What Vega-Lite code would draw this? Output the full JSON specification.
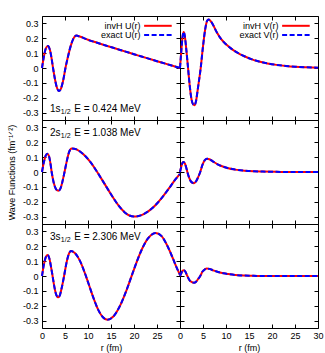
{
"$schema": "https://vega.github.io/schema/vega-lite/v6.json",
"background": "white",
"padding": {"left": 6, "top": 15, "right": 5, "bottom": 2},
"spacing": 0,
"bounds": "flush",
"columns": 2,
"datasets": {
"wf": [
{"s":"1s","c":"U","r":0,"v":0},{"s":"1s","c":"U","r":0.4,"v":0.075},{"s":"1s","c":"U","r":0.8,"v":0.128},{"s":"1s","c":"U","r":1.3,"v":0.148},{"s":"1s","c":"U","r":1.7,"v":0.124},{"s":"1s","c":"U","r":2.05,"v":0.071},{"s":"1s","c":"U","r":2.4,"v":0},{"s":"1s","c":"U","r":2.8,"v":-0.072},{"s":"1s","c":"U","r":3.2,"v":-0.128},{"s":"1s","c":"U","r":3.7,"v":-0.155},{"s":"1s","c":"U","r":4.1,"v":-0.14},{"s":"1s","c":"U","r":4.6,"v":-0.084},{"s":"1s","c":"U","r":5.1,"v":0},{"s":"1s","c":"U","r":5.6,"v":0.07},{"s":"1s","c":"U","r":6.2,"v":0.144},{"s":"1s","c":"U","r":6.8,"v":0.196},{"s":"1s","c":"U","r":7.5,"v":0.218},{"s":"1s","c":"U","r":8.2,"v":0.212},{"s":"1s","c":"U","r":9,"v":0.203},{"s":"1s","c":"U","r":10,"v":0.19},{"s":"1s","c":"U","r":12,"v":0.17},{"s":"1s","c":"U","r":14,"v":0.15},{"s":"1s","c":"U","r":16,"v":0.131},{"s":"1s","c":"U","r":18,"v":0.112},{"s":"1s","c":"U","r":20,"v":0.093},{"s":"1s","c":"U","r":22,"v":0.074},{"s":"1s","c":"U","r":24,"v":0.055},{"s":"1s","c":"U","r":26,"v":0.037},{"s":"1s","c":"U","r":28,"v":0.018},{"s":"1s","c":"U","r":30,"v":0},
{"s":"1s","c":"V","r":0,"v":0},{"s":"1s","c":"V","r":0.3,"v":0.12},{"s":"1s","c":"V","r":0.55,"v":0.21},{"s":"1s","c":"V","r":0.8,"v":0.243},{"s":"1s","c":"V","r":1.05,"v":0.215},{"s":"1s","c":"V","r":1.4,"v":0.115},{"s":"1s","c":"V","r":1.75,"v":0},{"s":"1s","c":"V","r":2.1,"v":-0.115},{"s":"1s","c":"V","r":2.5,"v":-0.21},{"s":"1s","c":"V","r":2.85,"v":-0.245},{"s":"1s","c":"V","r":3.15,"v":-0.25},{"s":"1s","c":"V","r":3.5,"v":-0.22},{"s":"1s","c":"V","r":3.9,"v":-0.135},{"s":"1s","c":"V","r":4.5,"v":0},{"s":"1s","c":"V","r":5,"v":0.145},{"s":"1s","c":"V","r":5.5,"v":0.265},{"s":"1s","c":"V","r":5.9,"v":0.318},{"s":"1s","c":"V","r":6.2,"v":0.326},{"s":"1s","c":"V","r":6.6,"v":0.318},{"s":"1s","c":"V","r":7.2,"v":0.29},{"s":"1s","c":"V","r":8,"v":0.24},{"s":"1s","c":"V","r":9,"v":0.192},{"s":"1s","c":"V","r":10,"v":0.16},{"s":"1s","c":"V","r":11,"v":0.134},{"s":"1s","c":"V","r":12,"v":0.112},{"s":"1s","c":"V","r":13,"v":0.094},{"s":"1s","c":"V","r":14,"v":0.079},{"s":"1s","c":"V","r":15.5,"v":0.06},{"s":"1s","c":"V","r":17,"v":0.045},{"s":"1s","c":"V","r":19,"v":0.031},{"s":"1s","c":"V","r":21,"v":0.021},{"s":"1s","c":"V","r":23,"v":0.014},{"s":"1s","c":"V","r":25,"v":0.009},{"s":"1s","c":"V","r":27.5,"v":0.005},{"s":"1s","c":"V","r":30,"v":0.002},
{"s":"2s","c":"U","r":0,"v":0},{"s":"2s","c":"U","r":0.4,"v":0.065},{"s":"2s","c":"U","r":0.8,"v":0.11},{"s":"2s","c":"U","r":1.15,"v":0.123},{"s":"2s","c":"U","r":1.5,"v":0.108},{"s":"2s","c":"U","r":1.8,"v":0.065},{"s":"2s","c":"U","r":2.1,"v":0},{"s":"2s","c":"U","r":2.5,"v":-0.065},{"s":"2s","c":"U","r":3,"v":-0.112},{"s":"2s","c":"U","r":3.55,"v":-0.127},{"s":"2s","c":"U","r":4,"v":-0.112},{"s":"2s","c":"U","r":4.4,"v":-0.07},{"s":"2s","c":"U","r":4.9,"v":0},{"s":"2s","c":"U","r":5.4,"v":0.075},{"s":"2s","c":"U","r":5.9,"v":0.135},{"s":"2s","c":"U","r":6.45,"v":0.159},{"s":"2s","c":"U","r":7.5,"v":0.152},{"s":"2s","c":"U","r":9,"v":0.12},{"s":"2s","c":"U","r":10.5,"v":0.068},{"s":"2s","c":"U","r":12,"v":0},{"s":"2s","c":"U","r":13.5,"v":-0.075},{"s":"2s","c":"U","r":15,"v":-0.15},{"s":"2s","c":"U","r":16.5,"v":-0.22},{"s":"2s","c":"U","r":18,"v":-0.272},{"s":"2s","c":"U","r":19,"v":-0.293},{"s":"2s","c":"U","r":20,"v":-0.3},{"s":"2s","c":"U","r":21,"v":-0.296},{"s":"2s","c":"U","r":22,"v":-0.285},{"s":"2s","c":"U","r":23,"v":-0.267},{"s":"2s","c":"U","r":24,"v":-0.243},{"s":"2s","c":"U","r":25,"v":-0.212},{"s":"2s","c":"U","r":26,"v":-0.176},{"s":"2s","c":"U","r":27,"v":-0.136},{"s":"2s","c":"U","r":28,"v":-0.093},{"s":"2s","c":"U","r":29,"v":-0.05},{"s":"2s","c":"U","r":30,"v":-0.012},
{"s":"2s","c":"V","r":0,"v":0},{"s":"2s","c":"V","r":0.3,"v":0.038},{"s":"2s","c":"V","r":0.55,"v":0.062},{"s":"2s","c":"V","r":0.8,"v":0.068},{"s":"2s","c":"V","r":1.1,"v":0.055},{"s":"2s","c":"V","r":1.35,"v":0.03},{"s":"2s","c":"V","r":1.6,"v":0},{"s":"2s","c":"V","r":2,"v":-0.04},{"s":"2s","c":"V","r":2.5,"v":-0.068},{"s":"2s","c":"V","r":3.05,"v":-0.075},{"s":"2s","c":"V","r":3.5,"v":-0.062},{"s":"2s","c":"V","r":3.9,"v":-0.038},{"s":"2s","c":"V","r":4.4,"v":0},{"s":"2s","c":"V","r":4.9,"v":0.05},{"s":"2s","c":"V","r":5.4,"v":0.08},{"s":"2s","c":"V","r":5.85,"v":0.089},{"s":"2s","c":"V","r":6.4,"v":0.086},{"s":"2s","c":"V","r":7.2,"v":0.07},{"s":"2s","c":"V","r":8.3,"v":0.05},{"s":"2s","c":"V","r":9.3,"v":0.037},{"s":"2s","c":"V","r":10.5,"v":0.025},{"s":"2s","c":"V","r":12,"v":0.016},{"s":"2s","c":"V","r":14,"v":0.009},{"s":"2s","c":"V","r":16,"v":0.005},{"s":"2s","c":"V","r":18,"v":0.003},{"s":"2s","c":"V","r":21,"v":0.001},{"s":"2s","c":"V","r":25,"v":0},{"s":"2s","c":"V","r":30,"v":0},
{"s":"3s","c":"U","r":0,"v":0},{"s":"3s","c":"U","r":0.4,"v":0.075},{"s":"3s","c":"U","r":0.8,"v":0.125},{"s":"3s","c":"U","r":1.2,"v":0.141},{"s":"3s","c":"U","r":1.6,"v":0.118},{"s":"3s","c":"U","r":2,"v":0.055},{"s":"3s","c":"U","r":2.3,"v":0},{"s":"3s","c":"U","r":2.7,"v":-0.075},{"s":"3s","c":"U","r":3.1,"v":-0.127},{"s":"3s","c":"U","r":3.5,"v":-0.143},{"s":"3s","c":"U","r":3.9,"v":-0.128},{"s":"3s","c":"U","r":4.3,"v":-0.078},{"s":"3s","c":"U","r":4.8,"v":0},{"s":"3s","c":"U","r":5.3,"v":0.085},{"s":"3s","c":"U","r":5.8,"v":0.145},{"s":"3s","c":"U","r":6.3,"v":0.168},{"s":"3s","c":"U","r":7.2,"v":0.153},{"s":"3s","c":"U","r":8.2,"v":0.105},{"s":"3s","c":"U","r":9.2,"v":0.03},{"s":"3s","c":"U","r":10.2,"v":-0.059},{"s":"3s","c":"U","r":11.2,"v":-0.149},{"s":"3s","c":"U","r":12.2,"v":-0.226},{"s":"3s","c":"U","r":13.2,"v":-0.276},{"s":"3s","c":"U","r":14.2,"v":-0.295},{"s":"3s","c":"U","r":15.5,"v":-0.273},{"s":"3s","c":"U","r":17,"v":-0.198},{"s":"3s","c":"U","r":18.5,"v":-0.085},{"s":"3s","c":"U","r":20,"v":0.045},{"s":"3s","c":"U","r":21.5,"v":0.165},{"s":"3s","c":"U","r":23,"v":0.251},{"s":"3s","c":"U","r":24.7,"v":0.289},{"s":"3s","c":"U","r":26,"v":0.268},{"s":"3s","c":"U","r":27.3,"v":0.2},{"s":"3s","c":"U","r":28.5,"v":0.115},{"s":"3s","c":"U","r":29.3,"v":0.055},{"s":"3s","c":"U","r":30,"v":0.008},
{"s":"3s","c":"V","r":0,"v":0},{"s":"3s","c":"V","r":0.3,"v":0.02},{"s":"3s","c":"V","r":0.55,"v":0.035},{"s":"3s","c":"V","r":0.85,"v":0.039},{"s":"3s","c":"V","r":1.15,"v":0.03},{"s":"3s","c":"V","r":1.6,"v":0},{"s":"3s","c":"V","r":2,"v":-0.025},{"s":"3s","c":"V","r":2.5,"v":-0.04},{"s":"3s","c":"V","r":3.05,"v":-0.045},{"s":"3s","c":"V","r":3.5,"v":-0.038},{"s":"3s","c":"V","r":3.9,"v":-0.022},{"s":"3s","c":"V","r":4.4,"v":0},{"s":"3s","c":"V","r":4.9,"v":0.03},{"s":"3s","c":"V","r":5.4,"v":0.045},{"s":"3s","c":"V","r":5.85,"v":0.05},{"s":"3s","c":"V","r":6.4,"v":0.048},{"s":"3s","c":"V","r":7.2,"v":0.038},{"s":"3s","c":"V","r":8.3,"v":0.027},{"s":"3s","c":"V","r":9.5,"v":0.018},{"s":"3s","c":"V","r":10.5,"v":0.013},{"s":"3s","c":"V","r":12,"v":0.007},{"s":"3s","c":"V","r":14,"v":0.003},{"s":"3s","c":"V","r":16,"v":0.001},{"s":"3s","c":"V","r":20,"v":0},{"s":"3s","c":"V","r":25,"v":0},{"s":"3s","c":"V","r":30,"v":0}
],
"ann": [
{"s":"1s","main":"1s","sub":"1/2","rest":"E = 0.424 MeV"},
{"s":"2s","main":"2s","sub":"1/2","rest":"E = 1.038 MeV"},
{"s":"3s","main":"3s","sub":"1/2","rest":"E = 2.306 MeV"}
],
"leg": [
{"c":"U","series":"invH","label":"invH U(r)"},
{"c":"U","series":"exact","label":"exact U(r)"},
{"c":"V","series":"invH","label":"invH V(r)"},
{"c":"V","series":"exact","label":"exact V(r)"}
]
},
"concat": [
{"width": 138, "height": 104, "resolve": {"axis": {"x": "independent", "y": "independent"}}, "layer": [
{"data": {"name": "wf"}, "transform": [{"filter": "datum.s==='1s'&&datum.c==='U'"}], "mark": {"type": "line", "color": "#ff0000", "strokeWidth": 2, "interpolate": "monotone"},
 "encoding": {"x": {"field": "r", "type": "quantitative", "scale": {"domain": [0, 30], "nice": false}, "axis": {"orient": "bottom", "values": [0,5,10,15,20,25,30], "labels": false, "title": null, "labelFlush": false}},
              "y": {"field": "v", "type": "quantitative", "scale": {"domain": [-0.35, 0.35], "nice": false}, "axis": {"orient": "left", "values": [-0.3,-0.2,-0.1,0,0.1,0.2,0.3], "title": null, "labelExpr": "replace(format(datum.value,'.1~f'),'\u2212','-')"}}}},
{"data": {"name": "wf"}, "transform": [{"filter": "datum.s==='1s'&&datum.c==='U'"}], "mark": {"type": "line", "color": "#0000ff", "strokeWidth": 2, "strokeDash": [5, 2.5], "interpolate": "monotone"},
 "encoding": {"x": {"field": "r", "type": "quantitative", "axis": {"orient": "top", "values": [0,5,10,15,20,25,30], "labels": false, "title": null}},
              "y": {"field": "v", "type": "quantitative", "axis": {"orient": "right", "values": [-0.3,-0.2,-0.1,0,0.1,0.2,0.3], "labels": false, "title": null}}}},
{"data": {"name": "leg"}, "transform": [{"filter": "datum.c==='U'&&datum.series==='invH'"}], "mark": {"type": "text", "align": "right", "baseline": "middle", "fontSize": 9, "font": "Liberation Sans", "color": "black"},
 "encoding": {"x": {"datum": 21.4, "type": "quantitative", "axis": null}, "y": {"datum": 0.284, "type": "quantitative", "axis": null}, "text": {"field": "label"}}},
{"data": {"name": "leg"}, "transform": [{"filter": "datum.c==='U'&&datum.series==='exact'"}], "mark": {"type": "text", "align": "right", "baseline": "middle", "fontSize": 9, "font": "Liberation Sans", "color": "black"},
 "encoding": {"x": {"datum": 21.4, "type": "quantitative", "axis": null}, "y": {"datum": 0.222, "type": "quantitative", "axis": null}, "text": {"field": "label"}}},
{"data": {"name": "leg"}, "transform": [{"filter": "datum.c==='U'&&datum.series==='invH'"}], "mark": {"type": "rule", "color": "#ff0000", "strokeWidth": 2},
 "encoding": {"x": {"datum": 22.2, "type": "quantitative", "axis": null}, "x2": {"datum": 28.2}, "y": {"datum": 0.284, "type": "quantitative", "axis": null}}},
{"data": {"name": "leg"}, "transform": [{"filter": "datum.c==='U'&&datum.series==='exact'"}], "mark": {"type": "rule", "color": "#0000ff", "strokeWidth": 2, "strokeDash": [5, 2.5]},
 "encoding": {"x": {"datum": 22.2, "type": "quantitative", "axis": null}, "x2": {"datum": 28.2}, "y": {"datum": 0.222, "type": "quantitative", "axis": null}}},
{"data": {"name": "ann"}, "transform": [{"filter": "datum.s==='1s'"}], "mark": {"type": "text", "align": "left", "baseline": "middle", "fontSize": 10, "font": "Liberation Sans", "color": "black"},
 "encoding": {"x": {"datum": 1.75, "type": "quantitative", "axis": null}, "y": {"datum": -0.279, "type": "quantitative", "axis": null}, "text": {"field": "main"}}},
{"data": {"name": "ann"}, "transform": [{"filter": "datum.s==='1s'"}], "mark": {"type": "text", "align": "left", "baseline": "middle", "fontSize": 7, "font": "Liberation Sans", "color": "black"},
 "encoding": {"x": {"datum": 4.1, "type": "quantitative", "axis": null}, "y": {"datum": -0.299, "type": "quantitative", "axis": null}, "text": {"field": "sub"}}},
{"data": {"name": "ann"}, "transform": [{"filter": "datum.s==='1s'"}], "mark": {"type": "text", "align": "left", "baseline": "middle", "fontSize": 10, "font": "Liberation Sans", "color": "black"},
 "encoding": {"x": {"datum": 7.0, "type": "quantitative", "axis": null}, "y": {"datum": -0.279, "type": "quantitative", "axis": null}, "text": {"field": "rest"}}}
]},
{"width": 138, "height": 104, "resolve": {"axis": {"x": "independent", "y": "independent"}}, "layer": [
{"data": {"name": "wf"}, "transform": [{"filter": "datum.s==='1s'&&datum.c==='V'"}], "mark": {"type": "line", "color": "#ff0000", "strokeWidth": 2, "interpolate": "monotone"},
 "encoding": {"x": {"field": "r", "type": "quantitative", "scale": {"domain": [0, 30], "nice": false}, "axis": {"orient": "bottom", "values": [0,5,10,15,20,25,30], "labels": false, "title": null, "labelFlush": false}},
              "y": {"field": "v", "type": "quantitative", "scale": {"domain": [-0.35, 0.35], "nice": false}, "axis": {"orient": "left", "values": [-0.3,-0.2,-0.1,0,0.1,0.2,0.3], "labels": false, "title": null}}}},
{"data": {"name": "wf"}, "transform": [{"filter": "datum.s==='1s'&&datum.c==='V'"}], "mark": {"type": "line", "color": "#0000ff", "strokeWidth": 2, "strokeDash": [5, 2.5], "interpolate": "monotone"},
 "encoding": {"x": {"field": "r", "type": "quantitative", "axis": {"orient": "top", "values": [0,5,10,15,20,25,30], "labels": false, "title": null}},
              "y": {"field": "v", "type": "quantitative", "axis": {"orient": "right", "values": [-0.3,-0.2,-0.1,0,0.1,0.2,0.3], "labels": false, "title": null}}}},
{"data": {"name": "leg"}, "transform": [{"filter": "datum.c==='V'&&datum.series==='invH'"}], "mark": {"type": "text", "align": "right", "baseline": "middle", "fontSize": 9, "font": "Liberation Sans", "color": "black"},
 "encoding": {"x": {"datum": 21.4, "type": "quantitative", "axis": null}, "y": {"datum": 0.284, "type": "quantitative", "axis": null}, "text": {"field": "label"}}},
{"data": {"name": "leg"}, "transform": [{"filter": "datum.c==='V'&&datum.series==='exact'"}], "mark": {"type": "text", "align": "right", "baseline": "middle", "fontSize": 9, "font": "Liberation Sans", "color": "black"},
 "encoding": {"x": {"datum": 21.4, "type": "quantitative", "axis": null}, "y": {"datum": 0.222, "type": "quantitative", "axis": null}, "text": {"field": "label"}}},
{"data": {"name": "leg"}, "transform": [{"filter": "datum.c==='V'&&datum.series==='invH'"}], "mark": {"type": "rule", "color": "#ff0000", "strokeWidth": 2},
 "encoding": {"x": {"datum": 22.2, "type": "quantitative", "axis": null}, "x2": {"datum": 28.2}, "y": {"datum": 0.284, "type": "quantitative", "axis": null}}},
{"data": {"name": "leg"}, "transform": [{"filter": "datum.c==='V'&&datum.series==='exact'"}], "mark": {"type": "rule", "color": "#0000ff", "strokeWidth": 2, "strokeDash": [5, 2.5]},
 "encoding": {"x": {"datum": 22.2, "type": "quantitative", "axis": null}, "x2": {"datum": 28.2}, "y": {"datum": 0.222, "type": "quantitative", "axis": null}}}
]},
{"width": 138, "height": 104, "resolve": {"axis": {"x": "independent", "y": "independent"}}, "layer": [
{"data": {"name": "wf"}, "transform": [{"filter": "datum.s==='2s'&&datum.c==='U'"}], "mark": {"type": "line", "color": "#ff0000", "strokeWidth": 2, "interpolate": "monotone"},
 "encoding": {"x": {"field": "r", "type": "quantitative", "scale": {"domain": [0, 30], "nice": false}, "axis": {"orient": "bottom", "values": [0,5,10,15,20,25,30], "labels": false, "title": null, "labelFlush": false}},
              "y": {"field": "v", "type": "quantitative", "scale": {"domain": [-0.35, 0.35], "nice": false}, "axis": {"orient": "left", "values": [-0.3,-0.2,-0.1,0,0.1,0.2,0.3], "title": "Wave Functions (fm\u207b\u00b9\u141f\u00b2)", "titlePadding": 6, "labelExpr": "replace(format(datum.value,'.1~f'),'\u2212','-')"}}}},
{"data": {"name": "wf"}, "transform": [{"filter": "datum.s==='2s'&&datum.c==='U'"}], "mark": {"type": "line", "color": "#0000ff", "strokeWidth": 2, "strokeDash": [5, 2.5], "interpolate": "monotone"},
 "encoding": {"x": {"field": "r", "type": "quantitative", "axis": {"orient": "top", "values": [0,5,10,15,20,25,30], "labels": false, "title": null}},
              "y": {"field": "v", "type": "quantitative", "axis": {"orient": "right", "values": [-0.3,-0.2,-0.1,0,0.1,0.2,0.3], "labels": false, "title": null}}}},
{"data": {"name": "ann"}, "transform": [{"filter": "datum.s==='2s'"}], "mark": {"type": "text", "align": "left", "baseline": "middle", "fontSize": 10, "font": "Liberation Sans", "color": "black"},
 "encoding": {"x": {"datum": 1.75, "type": "quantitative", "axis": null}, "y": {"datum": 0.265, "type": "quantitative", "axis": null}, "text": {"field": "main"}}},
{"data": {"name": "ann"}, "transform": [{"filter": "datum.s==='2s'"}], "mark": {"type": "text", "align": "left", "baseline": "middle", "fontSize": 7, "font": "Liberation Sans", "color": "black"},
 "encoding": {"x": {"datum": 4.1, "type": "quantitative", "axis": null}, "y": {"datum": 0.245, "type": "quantitative", "axis": null}, "text": {"field": "sub"}}},
{"data": {"name": "ann"}, "transform": [{"filter": "datum.s==='2s'"}], "mark": {"type": "text", "align": "left", "baseline": "middle", "fontSize": 10, "font": "Liberation Sans", "color": "black"},
 "encoding": {"x": {"datum": 7.0, "type": "quantitative", "axis": null}, "y": {"datum": 0.265, "type": "quantitative", "axis": null}, "text": {"field": "rest"}}}
]},
{"width": 138, "height": 104, "resolve": {"axis": {"x": "independent", "y": "independent"}}, "layer": [
{"data": {"name": "wf"}, "transform": [{"filter": "datum.s==='2s'&&datum.c==='V'"}], "mark": {"type": "line", "color": "#ff0000", "strokeWidth": 2, "interpolate": "monotone"},
 "encoding": {"x": {"field": "r", "type": "quantitative", "scale": {"domain": [0, 30], "nice": false}, "axis": {"orient": "bottom", "values": [0,5,10,15,20,25,30], "labels": false, "title": null, "labelFlush": false}},
              "y": {"field": "v", "type": "quantitative", "scale": {"domain": [-0.35, 0.35], "nice": false}, "axis": {"orient": "left", "values": [-0.3,-0.2,-0.1,0,0.1,0.2,0.3], "labels": false, "title": null}}}},
{"data": {"name": "wf"}, "transform": [{"filter": "datum.s==='2s'&&datum.c==='V'"}], "mark": {"type": "line", "color": "#0000ff", "strokeWidth": 2, "strokeDash": [5, 2.5], "interpolate": "monotone"},
 "encoding": {"x": {"field": "r", "type": "quantitative", "axis": {"orient": "top", "values": [0,5,10,15,20,25,30], "labels": false, "title": null}},
              "y": {"field": "v", "type": "quantitative", "axis": {"orient": "right", "values": [-0.3,-0.2,-0.1,0,0.1,0.2,0.3], "labels": false, "title": null}}}}
]},
{"width": 138, "height": 104, "resolve": {"axis": {"x": "independent", "y": "independent"}}, "layer": [
{"data": {"name": "wf"}, "transform": [{"filter": "datum.s==='3s'&&datum.c==='U'"}], "mark": {"type": "line", "color": "#ff0000", "strokeWidth": 2, "interpolate": "monotone"},
 "encoding": {"x": {"field": "r", "type": "quantitative", "scale": {"domain": [0, 30], "nice": false}, "axis": {"orient": "bottom", "values": [0,5,10,15,20,25,30], "title": "r (fm)", "labelFlush": false, "labelExpr": "datum.value == 30 ? '' : datum.label"}},
              "y": {"field": "v", "type": "quantitative", "scale": {"domain": [-0.35, 0.35], "nice": false}, "axis": {"orient": "left", "values": [-0.3,-0.2,-0.1,0,0.1,0.2,0.3], "title": null, "labelExpr": "replace(format(datum.value,'.1~f'),'\u2212','-')"}}}},
{"data": {"name": "wf"}, "transform": [{"filter": "datum.s==='3s'&&datum.c==='U'"}], "mark": {"type": "line", "color": "#0000ff", "strokeWidth": 2, "strokeDash": [5, 2.5], "interpolate": "monotone"},
 "encoding": {"x": {"field": "r", "type": "quantitative", "axis": {"orient": "top", "values": [0,5,10,15,20,25,30], "labels": false, "title": null}},
              "y": {"field": "v", "type": "quantitative", "axis": {"orient": "right", "values": [-0.3,-0.2,-0.1,0,0.1,0.2,0.3], "labels": false, "title": null}}}},
{"data": {"name": "ann"}, "transform": [{"filter": "datum.s==='3s'"}], "mark": {"type": "text", "align": "left", "baseline": "middle", "fontSize": 10, "font": "Liberation Sans", "color": "black"},
 "encoding": {"x": {"datum": 1.75, "type": "quantitative", "axis": null}, "y": {"datum": 0.265, "type": "quantitative", "axis": null}, "text": {"field": "main"}}},
{"data": {"name": "ann"}, "transform": [{"filter": "datum.s==='3s'"}], "mark": {"type": "text", "align": "left", "baseline": "middle", "fontSize": 7, "font": "Liberation Sans", "color": "black"},
 "encoding": {"x": {"datum": 4.1, "type": "quantitative", "axis": null}, "y": {"datum": 0.245, "type": "quantitative", "axis": null}, "text": {"field": "sub"}}},
{"data": {"name": "ann"}, "transform": [{"filter": "datum.s==='3s'"}], "mark": {"type": "text", "align": "left", "baseline": "middle", "fontSize": 10, "font": "Liberation Sans", "color": "black"},
 "encoding": {"x": {"datum": 7.0, "type": "quantitative", "axis": null}, "y": {"datum": 0.265, "type": "quantitative", "axis": null}, "text": {"field": "rest"}}}
]},
{"width": 138, "height": 104, "resolve": {"axis": {"x": "independent", "y": "independent"}}, "layer": [
{"data": {"name": "wf"}, "transform": [{"filter": "datum.s==='3s'&&datum.c==='V'"}], "mark": {"type": "line", "color": "#ff0000", "strokeWidth": 2, "interpolate": "monotone"},
 "encoding": {"x": {"field": "r", "type": "quantitative", "scale": {"domain": [0, 30], "nice": false}, "axis": {"orient": "bottom", "values": [0,5,10,15,20,25,30], "title": "r (fm)", "labelFlush": false}},
              "y": {"field": "v", "type": "quantitative", "scale": {"domain": [-0.35, 0.35], "nice": false}, "axis": {"orient": "left", "values": [-0.3,-0.2,-0.1,0,0.1,0.2,0.3], "labels": false, "title": null}}}},
{"data": {"name": "wf"}, "transform": [{"filter": "datum.s==='3s'&&datum.c==='V'"}], "mark": {"type": "line", "color": "#0000ff", "strokeWidth": 2, "strokeDash": [5, 2.5], "interpolate": "monotone"},
 "encoding": {"x": {"field": "r", "type": "quantitative", "axis": {"orient": "top", "values": [0,5,10,15,20,25,30], "labels": false, "title": null}},
              "y": {"field": "v", "type": "quantitative", "axis": {"orient": "right", "values": [-0.3,-0.2,-0.1,0,0.1,0.2,0.3], "labels": false, "title": null}}}}
]}
],
"config": {
"font": "Liberation Sans",
"view": {"stroke": "black", "strokeWidth": 1},
"concat": {"spacing": 0},
"axis": {"grid": false, "domain": false, "tickSize": -4, "tickColor": "black", "tickWidth": 1, "labelPadding": 7, "labelFontSize": 9, "labelColor": "black", "labelFont": "Liberation Sans", "titleFont": "Liberation Sans", "titleFontSize": 9, "titleFontWeight": "normal", "titleColor": "black", "titlePadding": 3},
"axisY": {"labelPadding": 8}
}
}
